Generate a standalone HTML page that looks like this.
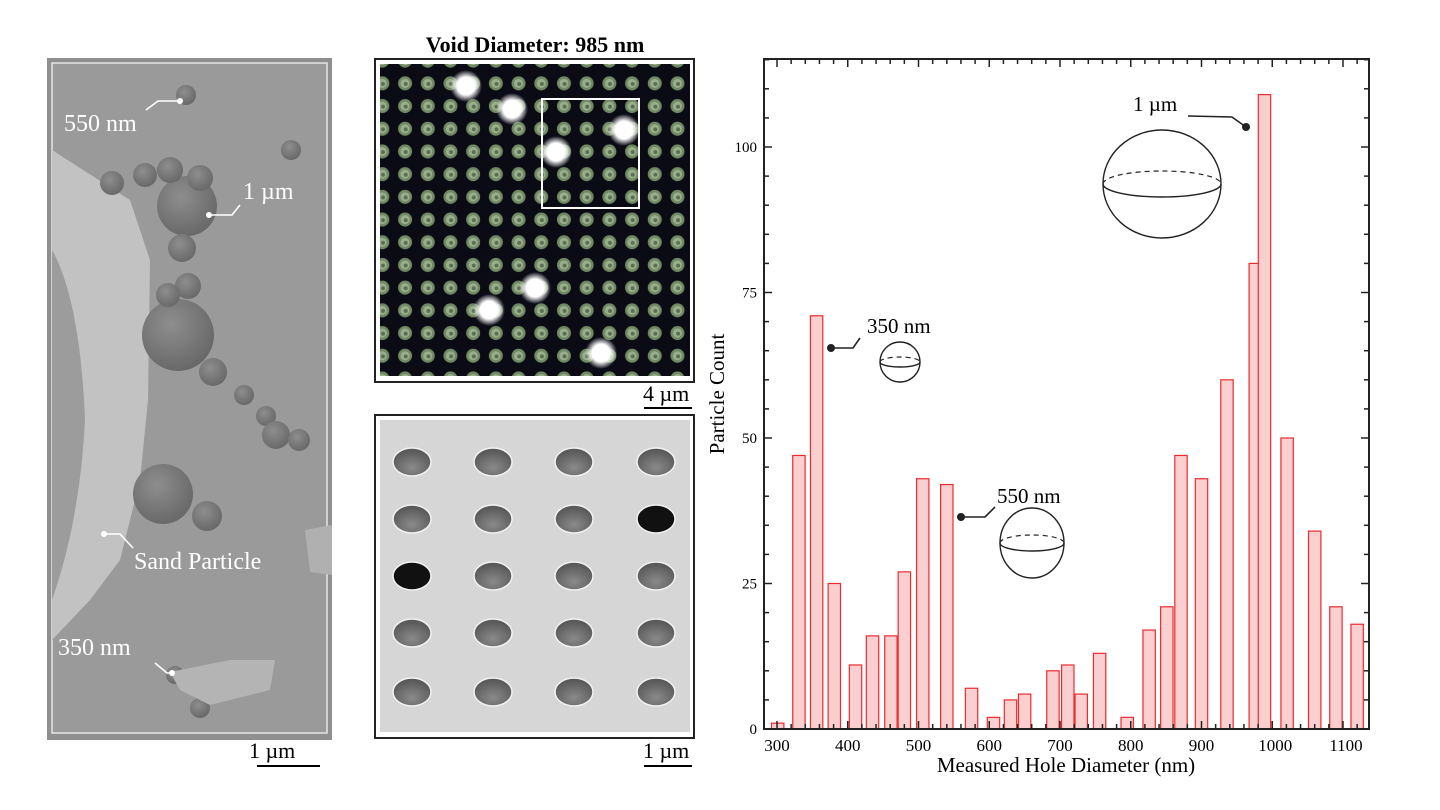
<!DOCTYPE html>
<html><head><meta charset="utf-8"><style>
body{margin:0;background:#fff;}
svg{display:block;font-family:"Liberation Serif",serif;}
</style></head><body>
<svg id="fig" width="1440" height="810" viewBox="0 0 1440 810">
<defs>
<radialGradient id="sph" cx="0.4" cy="0.35" r="0.7"><stop offset="0" stop-color="#8e8e8e"/><stop offset="1" stop-color="#666"/></radialGradient>
<radialGradient id="glow" cx="0.5" cy="0.5" r="0.5"><stop offset="0" stop-color="#fff"/><stop offset="0.55" stop-color="#fff"/><stop offset="1" stop-color="#fff" stop-opacity="0"/></radialGradient>
<radialGradient id="hole" cx="0.5" cy="0.7" r="0.6"><stop offset="0" stop-color="#8a8a8a"/><stop offset="1" stop-color="#5a5a5a"/></radialGradient>
<pattern id="dots" x="371" y="72" width="22.7" height="22.7" patternUnits="userSpaceOnUse">
<circle cx="11.35" cy="11.35" r="7" fill="#6f8a62"/><circle cx="11.35" cy="11.35" r="4.5" fill="#9aae8c"/><circle cx="12" cy="12" r="2" fill="#5a6e52"/>
</pattern>
</defs>

<g>
<rect x="47" y="58" width="285" height="682" fill="#8f8f8f"/>
<rect x="52" y="63" width="275" height="670" fill="#9a9a9a" stroke="#e6e6e6" stroke-width="1.5"/>
<path d="M52 150 L130 200 L150 260 L148 400 L140 480 L120 560 L90 600 L52 640 Z" fill="#c2c2c2"/>
<path d="M52 250 Q80 300 85 420 Q80 520 52 600 Z" fill="#9c9c9c"/>
<g fill="url(#sph)">
<circle cx="186" cy="95" r="10"/><circle cx="291" cy="150" r="10"/>
<circle cx="187" cy="206" r="30"/><circle cx="178" cy="335" r="36"/><circle cx="163" cy="494" r="30"/>
<circle cx="207" cy="516" r="15"/><circle cx="182" cy="248" r="14"/><circle cx="170" cy="170" r="13"/>
<circle cx="145" cy="175" r="12"/><circle cx="112" cy="183" r="12"/><circle cx="200" cy="178" r="13"/>
<circle cx="213" cy="372" r="14"/><circle cx="244" cy="395" r="10"/>
<circle cx="266" cy="416" r="10"/><circle cx="276" cy="435" r="14"/><circle cx="299" cy="440" r="11"/>
<circle cx="200" cy="708" r="10"/><circle cx="175" cy="675" r="9"/><circle cx="188" cy="286" r="13"/><circle cx="168" cy="295" r="12"/>
</g>
<path d="M170 672 L230 660 L275 660 L270 690 L210 705 L180 690 Z" fill="#b4b4b4"/>
<path d="M305 530 L332 525 L332 575 L310 572 Z" fill="#b0b0b0"/>
<g fill="none" stroke="#fff" stroke-width="1.6">
<path d="M146 110 L158 101 L180 101"/><path d="M209 215 L232 215 L240 205"/>
<path d="M104 534 L120 534 L133 548"/><path d="M155 663 L167 673 L172 673"/>
</g>
<g fill="#fff"><circle cx="180" cy="101" r="3"/><circle cx="209" cy="215" r="3"/><circle cx="104" cy="534" r="3"/><circle cx="172" cy="673" r="3"/></g>
<g fill="#fff" font-size="24">
<text x="64" y="131">550 nm</text>
<text x="243" y="199">1 µm</text>
<text x="134" y="569">Sand Particle</text>
<text x="58" y="655">350 nm</text>
</g>
</g>
<text x="249" y="758" font-size="22">1 µm</text>
<line x1="257" y1="766" x2="320" y2="766" stroke="#000" stroke-width="2"/>

<text x="535" y="52" font-size="22" font-weight="bold" text-anchor="middle">Void Diameter: 985 nm</text>
<g>
<rect x="375" y="59" width="319" height="323" fill="#fff" stroke="#222" stroke-width="2"/>
<rect x="380" y="64" width="310" height="312" fill="#0b0b16"/>
<rect x="380" y="64" width="310" height="312" fill="url(#dots)"/>
<g fill="url(#glow)">
<circle cx="466" cy="86" r="16"/><circle cx="512" cy="109" r="16"/><circle cx="624" cy="130" r="16"/>
<circle cx="556" cy="152" r="16"/><circle cx="535" cy="288" r="16"/><circle cx="489" cy="310" r="16"/><circle cx="601" cy="353" r="16"/>
</g>
<rect x="542" y="99" width="97" height="109" fill="none" stroke="#fff" stroke-width="2"/>
</g>
<text x="643" y="401" font-size="22">4 µm</text>
<line x1="644" y1="408" x2="692" y2="408" stroke="#000" stroke-width="2"/>

<g id="holes">
<rect x="375" y="415" width="319" height="323" fill="#fff" stroke="#222" stroke-width="2"/>
<rect x="380" y="420" width="310" height="312" fill="#d6d6d6"/>
</g>
<text x="643" y="758" font-size="22">1 µm</text>
<line x1="644" y1="766" x2="692" y2="766" stroke="#000" stroke-width="2"/>

<g id="chart"></g>
</svg>
<script>
const NS='http://www.w3.org/2000/svg';
const binCenters=[301,331,356,381,411,435,461,480,506,540,575,606,630,650,690,711,730,756,795,826,851,871,900,936,976,989,1021,1060,1090,1120];
const counts=[1,47,71,25,11,16,16,27,43,42,7,2,5,6,10,11,6,13,2,17,21,47,43,60,80,109,50,34,21,18];
const xTickLabels=[300,400,500,600,700,800,900,1000,1100];
const yTickLabels=[0,25,50,75,100];
const barWidthNm=17.5;

function mk(tag,attrs,parent){const e=document.createElementNS(NS,tag);for(const k in attrs)e.setAttribute(k,attrs[k]);parent.appendChild(e);return e;}

const hp=document.getElementById('holes');
const hx=[412,493,574,656], hy=[462,519,576,633,692];
hy.forEach((y,r)=>hx.forEach((x,c)=>{
  const filled=(r===2&&c===0)||(r===1&&c===3);
  const h=mk('ellipse',{cx:x,cy:y,rx:19,ry:14,fill:filled?'#111':'url(#hole)',stroke:'#f2f2f2','stroke-width':1.5},hp);
  
  
}));

const g=document.getElementById('chart');
const L=764,R=1369,T=59,B=729;
const SX=0.7075;
const x=v=>777+(v-300)*SX;
const y=v=>B-v*5.82;

counts.forEach((c,i)=>{
  const b=mk('rect',{x:x(binCenters[i]-barWidthNm/2),y:y(c),width:barWidthNm*SX,height:B-y(c),fill:'#f9cfd0',stroke:'#ee2a2f','stroke-width':1.2},g);
  
  
});

const frame=mk('rect',{x:L,y:T,width:R-L,height:B-T,fill:'none',stroke:'#222','stroke-width':2},g);



for(let v=0;v<=115;v+=5){
  const len=(v%25===0)?8:5;
  mk('line',{x1:L,x2:L+len,y1:y(v),y2:y(v),stroke:'#222','stroke-width':1.5},g);
  mk('line',{x1:R,x2:R-len,y1:y(v),y2:y(v),stroke:'#222','stroke-width':1.5},g);
}
for(let v=300;v<=1120;v+=20){
  const len=(v%100===0)?8:5;
  mk('line',{x1:x(v),x2:x(v),y1:B,y2:B-len,stroke:'#222','stroke-width':1.5},g);
  mk('line',{x1:x(v),x2:x(v),y1:T,y2:T+len,stroke:'#222','stroke-width':1.5},g);
}
yTickLabels.forEach(v=>{
  const t=mk('text',{x:L-7,y:y(v)+5,'font-size':15,'text-anchor':'end'},g);
  t.textContent=v;
  
  
});
xTickLabels.forEach(v=>{
  const t=mk('text',{x:x(v)+(v>=1000?3:0),y:B+22,'font-size':17,'text-anchor':'middle'},g);
  t.textContent=v;
  
  
});
const xt=mk('text',{x:1066,y:772,'font-size':21,'text-anchor':'middle'},g);
xt.textContent='Measured Hole Diameter (nm)';


const yt=mk('text',{x:0,y:0,'font-size':21,'text-anchor':'middle',transform:'translate(724,394) rotate(-90)'},g);
yt.textContent='Particle Count';



function sphere(cx,cy,rx,ry,ery,name){
  const s=mk('g',{},g);
  
  
  mk('ellipse',{cx:cx,cy:cy,rx:rx,ry:ry,fill:'#fff',stroke:'#222','stroke-width':1.4},s);
  mk('path',{d:`M${cx-rx} ${cy} A${rx} ${ery} 0 0 1 ${cx+rx} ${cy}`,fill:'none',stroke:'#222','stroke-width':1.2,'stroke-dasharray':'5 4'},s);
  mk('path',{d:`M${cx-rx} ${cy} A${rx} ${ery} 0 0 0 ${cx+rx} ${cy}`,fill:'none',stroke:'#222','stroke-width':1.4},s);
}
function callout(txt,tx,ty,path,dx,dy,name){
  const t=mk('text',{x:tx,y:ty,'font-size':21},g);
  t.textContent=txt;
  
  
  mk('path',{d:path,fill:'none',stroke:'#222','stroke-width':1.6},g);
  mk('circle',{cx:dx,cy:dy,r:4,fill:'#222'},g);
}
callout('1 µm',1133,111,'M1188 116 L1232 117 L1246 127',1246,127,'annotation-1um');
sphere(1162,184,59,54,13,'sphere-1um');
callout('350 nm',867,333,'M831 348 L853 348 L860 338',831,348,'annotation-350nm');
sphere(900,362,20,20,5,'sphere-350nm');
callout('550 nm',997,503,'M961 517 L985 517 L995 507',961,517,'annotation-550nm');
sphere(1032,543,32,35,8,'sphere-550nm');
</script>
</body></html>
